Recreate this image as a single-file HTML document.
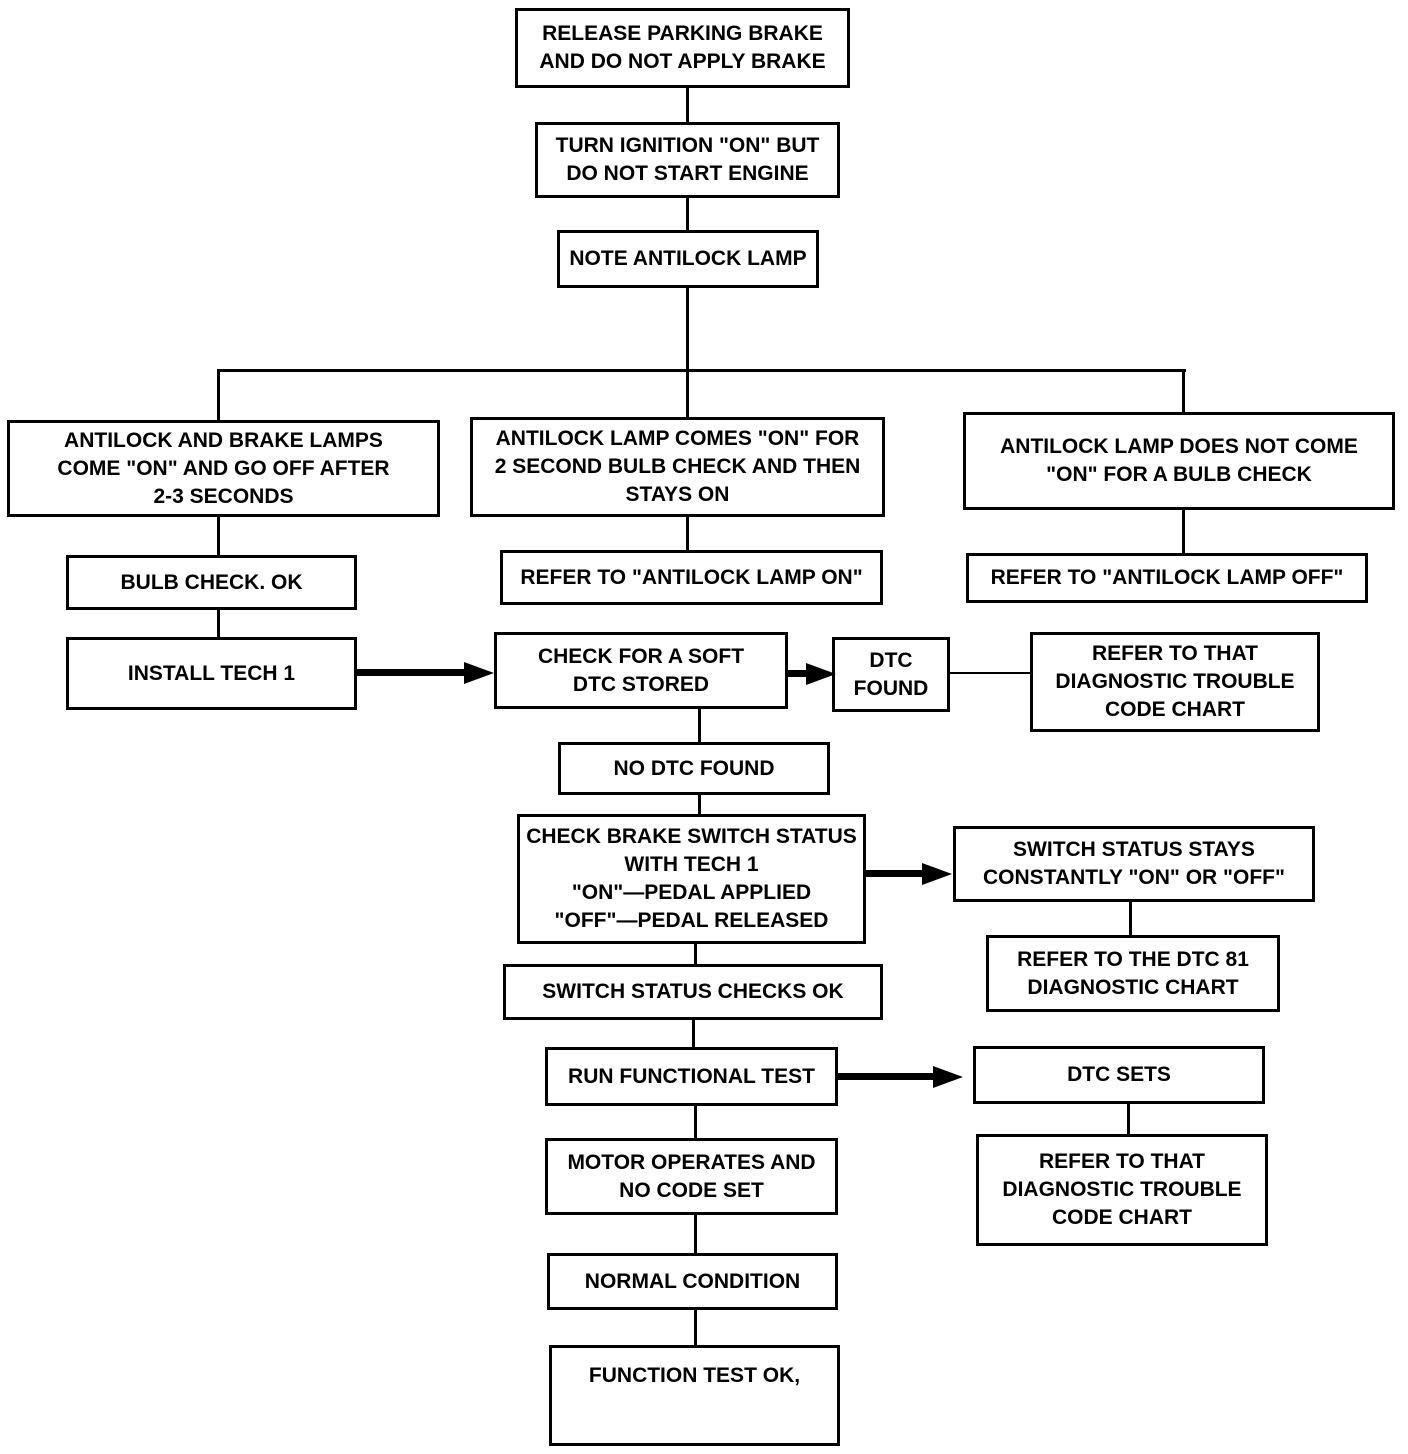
<!DOCTYPE html>
<html><head><style>
body{margin:0;width:1408px;height:1454px;background:#fff;position:relative;overflow:hidden;font-family:"Liberation Sans Narrow","Liberation Sans",sans-serif;font-weight:bold;}
.b{position:absolute;border:3px solid #000;box-sizing:border-box;display:flex;align-items:center;justify-content:center;text-align:center;font-size:21px;line-height:28px;color:#000;white-space:nowrap;}
.v{position:absolute;width:3px;background:#000;}
.h{position:absolute;height:3px;background:#000;}
.a{position:absolute;height:7px;background:#000;}
.t{position:absolute;width:0;height:0;border-top:11px solid transparent;border-bottom:11px solid transparent;border-left:30px solid #000;}
</style></head><body>
<div class="b" style="left:515px;top:8px;width:335px;height:80px">RELEASE PARKING BRAKE<br>AND DO NOT APPLY BRAKE</div>
<div class="v" style="left:686px;top:88px;height:34px"></div>
<div class="b" style="left:535px;top:122px;width:305px;height:76px">TURN IGNITION "ON" BUT<br>DO NOT START ENGINE</div>
<div class="v" style="left:686px;top:198px;height:32px"></div>
<div class="b" style="left:557px;top:230px;width:262px;height:58px">NOTE ANTILOCK LAMP</div>
<div class="v" style="left:686px;top:288px;height:130px"></div>
<div class="h" style="left:217px;top:369px;width:969px"></div>
<div class="v" style="left:217px;top:369px;height:51px"></div>
<div class="v" style="left:1182px;top:369px;height:43px"></div>

<div class="b" style="left:7px;top:420px;width:433px;height:97px">ANTILOCK AND BRAKE LAMPS<br>COME "ON" AND GO OFF AFTER<br>2-3 SECONDS</div>
<div class="b" style="left:470px;top:417px;width:415px;height:100px">ANTILOCK LAMP COMES "ON" FOR<br>2 SECOND BULB CHECK AND THEN<br>STAYS ON</div>
<div class="b" style="left:963px;top:412px;width:432px;height:98px">ANTILOCK LAMP DOES NOT COME<br>"ON" FOR A BULB CHECK</div>

<div class="v" style="left:217px;top:517px;height:38px"></div>
<div class="v" style="left:686px;top:517px;height:33px"></div>
<div class="v" style="left:1182px;top:510px;height:43px"></div>

<div class="b" style="left:66px;top:555px;width:291px;height:55px">BULB CHECK. OK</div>
<div class="b" style="left:500px;top:550px;width:383px;height:55px">REFER TO "ANTILOCK LAMP ON"</div>
<div class="b" style="left:966px;top:553px;width:402px;height:50px">REFER TO "ANTILOCK LAMP OFF"</div>

<div class="v" style="left:217px;top:610px;height:27px"></div>
<div class="b" style="left:66px;top:637px;width:291px;height:73px">INSTALL TECH 1</div>
<div class="a" style="left:357px;top:669px;width:110px"></div>
<div class="t" style="left:464px;top:662px"></div>
<div class="b" style="left:494px;top:632px;width:294px;height:77px">CHECK FOR A SOFT<br>DTC STORED</div>
<div class="a" style="left:788px;top:670px;width:20px"></div>
<div class="t" style="left:806px;top:663px"></div>
<div class="b" style="left:832px;top:637px;width:118px;height:75px">DTC<br>FOUND</div>
<div class="h" style="left:950px;top:672px;width:80px;height:2px"></div>
<div class="b" style="left:1030px;top:632px;width:290px;height:100px">REFER TO THAT<br>DIAGNOSTIC TROUBLE<br>CODE CHART</div>

<div class="v" style="left:698px;top:709px;height:33px"></div>
<div class="b" style="left:558px;top:742px;width:272px;height:53px">NO DTC FOUND</div>
<div class="v" style="left:698px;top:795px;height:19px"></div>
<div class="b" style="left:517px;top:814px;width:349px;height:130px">CHECK BRAKE SWITCH STATUS<br>WITH TECH 1<br>"ON"—PEDAL APPLIED<br>"OFF"—PEDAL RELEASED</div>
<div class="a" style="left:866px;top:870px;width:60px"></div>
<div class="t" style="left:922px;top:863px"></div>
<div class="b" style="left:953px;top:826px;width:362px;height:76px">SWITCH STATUS STAYS<br>CONSTANTLY "ON" OR "OFF"</div>
<div class="v" style="left:1129px;top:902px;height:33px"></div>
<div class="b" style="left:986px;top:935px;width:294px;height:77px">REFER TO THE DTC 81<br>DIAGNOSTIC CHART</div>

<div class="v" style="left:694px;top:944px;height:20px"></div>
<div class="b" style="left:503px;top:964px;width:380px;height:56px">SWITCH STATUS CHECKS OK</div>
<div class="v" style="left:692px;top:1020px;height:27px"></div>
<div class="b" style="left:545px;top:1047px;width:293px;height:59px">RUN FUNCTIONAL TEST</div>
<div class="a" style="left:838px;top:1073px;width:100px"></div>
<div class="t" style="left:933px;top:1066px"></div>
<div class="b" style="left:973px;top:1046px;width:292px;height:58px">DTC SETS</div>
<div class="v" style="left:1127px;top:1104px;height:30px"></div>
<div class="b" style="left:976px;top:1134px;width:292px;height:112px">REFER TO THAT<br>DIAGNOSTIC TROUBLE<br>CODE CHART</div>

<div class="v" style="left:694px;top:1106px;height:32px"></div>
<div class="b" style="left:545px;top:1138px;width:293px;height:77px">MOTOR OPERATES AND<br>NO CODE SET</div>
<div class="v" style="left:694px;top:1215px;height:38px"></div>
<div class="b" style="left:547px;top:1253px;width:291px;height:57px">NORMAL CONDITION</div>
<div class="v" style="left:694px;top:1310px;height:35px"></div>
<div class="b" style="left:549px;top:1345px;width:291px;height:101px;align-items:flex-start;padding-top:14px">FUNCTION TEST OK,</div>
</body></html>
